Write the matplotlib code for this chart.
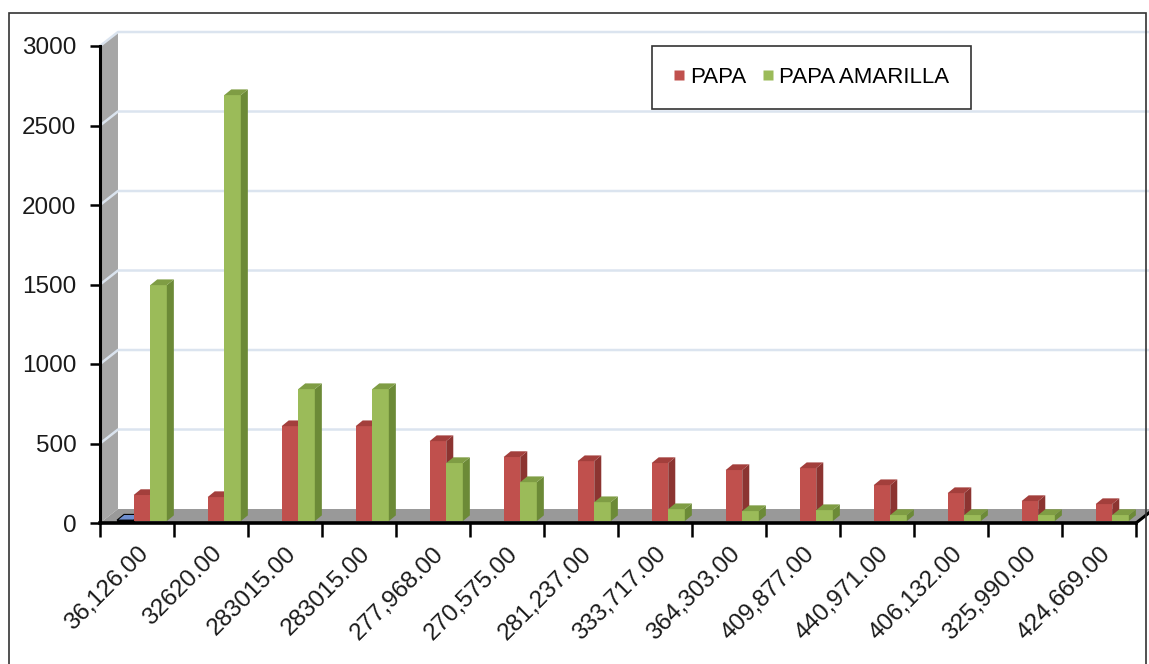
import numpy as np
import matplotlib.pyplot as plt
from matplotlib.patches import Polygon, Rectangle
from matplotlib.lines import Line2D

plt.rcParams['font.family'] = ['Liberation Sans', 'DejaVu Sans']

etiquetas = ["36,126.00", "32620.00", "283015.00", "283015.00", "277,968.00",
             "270,575.00", "281,237.00", "333,717.00", "364,303.00", "409,877.00",
             "440,971.00", "406,132.00", "325,990.00", "424,669.00"]
papa = [164, 151, 597, 597, 503, 403, 377, 365, 321, 333, 226, 176, 126, 107]
papa_amarilla = [1484, 2679, 830, 830, 365, 245, 119, 75, 63, 69, 38, 38, 38, 38]
otro = [6, 0, 0, 0, 0, 0, 0, 0, 0, 0, 0, 0, 0, 0]
yticks = [0, 500, 1000, 1500, 2000, 2500, 3000]

W, H = 1149, 664
fig = plt.figure(figsize=(W / 100, H / 100), dpi=100)
ax = fig.add_axes([100 / W, (H - 523) / H, 1036 / W, 477 / H])
n = len(etiquetas)
ax.set_xlim(0, n)
ax.set_ylim(0, 3000)
for s in ax.spines.values():
    s.set_visible(False)
ax.patch.set_alpha(0)

# profundidad de paredes y barras (unidades de datos)
dxw, dyw = 0.243, 88
dxb, dyb = 0.095, 36
base = 12
w = 0.224

grid_c = '#dbe4ef'
# pared izquierda
ax.add_patch(Polygon([(0, 0), (dxw, dyw), (dxw, 3000 + dyw), (0, 3000)],
                     closed=True, fc='#a6a6a6', ec='none', clip_on=False, zorder=1))
# lineas de cuadricula
for v in yticks[1:]:
    ax.plot([0, dxw, n + dxw + 0.3], [v, v + dyw, v + dyw], color=grid_c, lw=1.8,
            clip_on=False, zorder=2, solid_capstyle='butt')
# piso
ax.add_patch(Polygon([(0, 0), (dxw, dyw), (n + dxw, dyw), (n, 0)],
                     closed=True, fc='#999999', ec='none', clip_on=False, zorder=3))
ax.plot([n, n + dxw], [0, dyw], color='black', lw=2.2, clip_on=False, zorder=3)


def barra3d(x, v, front, side, top, edge='none'):
    ax.bar(x, v, width=w, bottom=base, align='edge', color=front, edgecolor=edge,
           lw=0.8, zorder=4)
    ax.add_patch(Polygon([(x + w, base), (x + w + dxb, base + dyb),
                          (x + w + dxb, base + v + dyb), (x + w, base + v)],
                         closed=True, fc=side, ec=edge, lw=0.8, zorder=4, clip_on=False))
    ax.add_patch(Polygon([(x, base + v), (x + dxb, base + v + dyb),
                          (x + w + dxb, base + v + dyb), (x + w, base + v)],
                         closed=True, fc=top, ec=edge, lw=0.8, zorder=4, clip_on=False))


for i in range(n):
    if otro[i] > 0:
        barra3d(i + 0.23, otro[i], '#4f81bd', '#2c4d75', '#6f8fd0', edge='black')
    barra3d(i + 0.455, papa[i], '#c0504d', '#8c3431', '#a33f3c')
    barra3d(i + 0.679, papa_amarilla[i], '#9bbb59', '#6c8a37', '#7f9d44')

# ejes
ax.plot([0, n], [0, 0], color='black', lw=2.6, clip_on=False, zorder=6)
ax.plot([0, 0], [0, 3000], color='black', lw=2.2, clip_on=False, zorder=6)
ax.set_yticks(yticks)
ax.set_yticklabels([str(t) for t in yticks], fontsize=17.5, color='#1a1a1a')
ax.tick_params(axis='y', length=7, width=1.8, pad=10, direction='out')
ax.set_xticks(np.arange(n + 1))
ax.set_xticklabels([])
ax.set_xticks(np.arange(n) + 0.5, minor=True)
ax.set_xticklabels(etiquetas, minor=True, rotation=45, ha='right', va='top',
                   rotation_mode='anchor', fontsize=17.5, color='#1a1a1a')
ax.tick_params(axis='x', which='major', length=10, width=1.8, direction='out')
ax.tick_params(axis='x', which='minor', length=0, pad=14)
ax.grid(False)

# leyenda
handles = [Line2D([], [], ls='none', marker='s', ms=7, mfc='#c0504d', mec='none'),
           Line2D([], [], ls='none', marker='s', ms=7, mfc='#9bbb59', mec='none')]
leg = fig.legend(handles, ['PAPA', 'PAPA AMARILLA'], loc='upper left',
                 bbox_to_anchor=(652 / W, 1 - 46 / H), ncol=2, fontsize=16,
                 frameon=True, fancybox=False, edgecolor='black', handlelength=0.5,
                 handletextpad=0.25, columnspacing=0.75, borderpad=0.95, borderaxespad=0)
leg.get_frame().set_linewidth(1.2)

# marco exterior
fig.patches.append(Rectangle((9 / W, -0.01), (1146 - 9) / W, 1.01 - 13 / H,
                             transform=fig.transFigure, fill=False, ec='#333333', lw=1.2))

fig.savefig('out.png', dpi=100)
